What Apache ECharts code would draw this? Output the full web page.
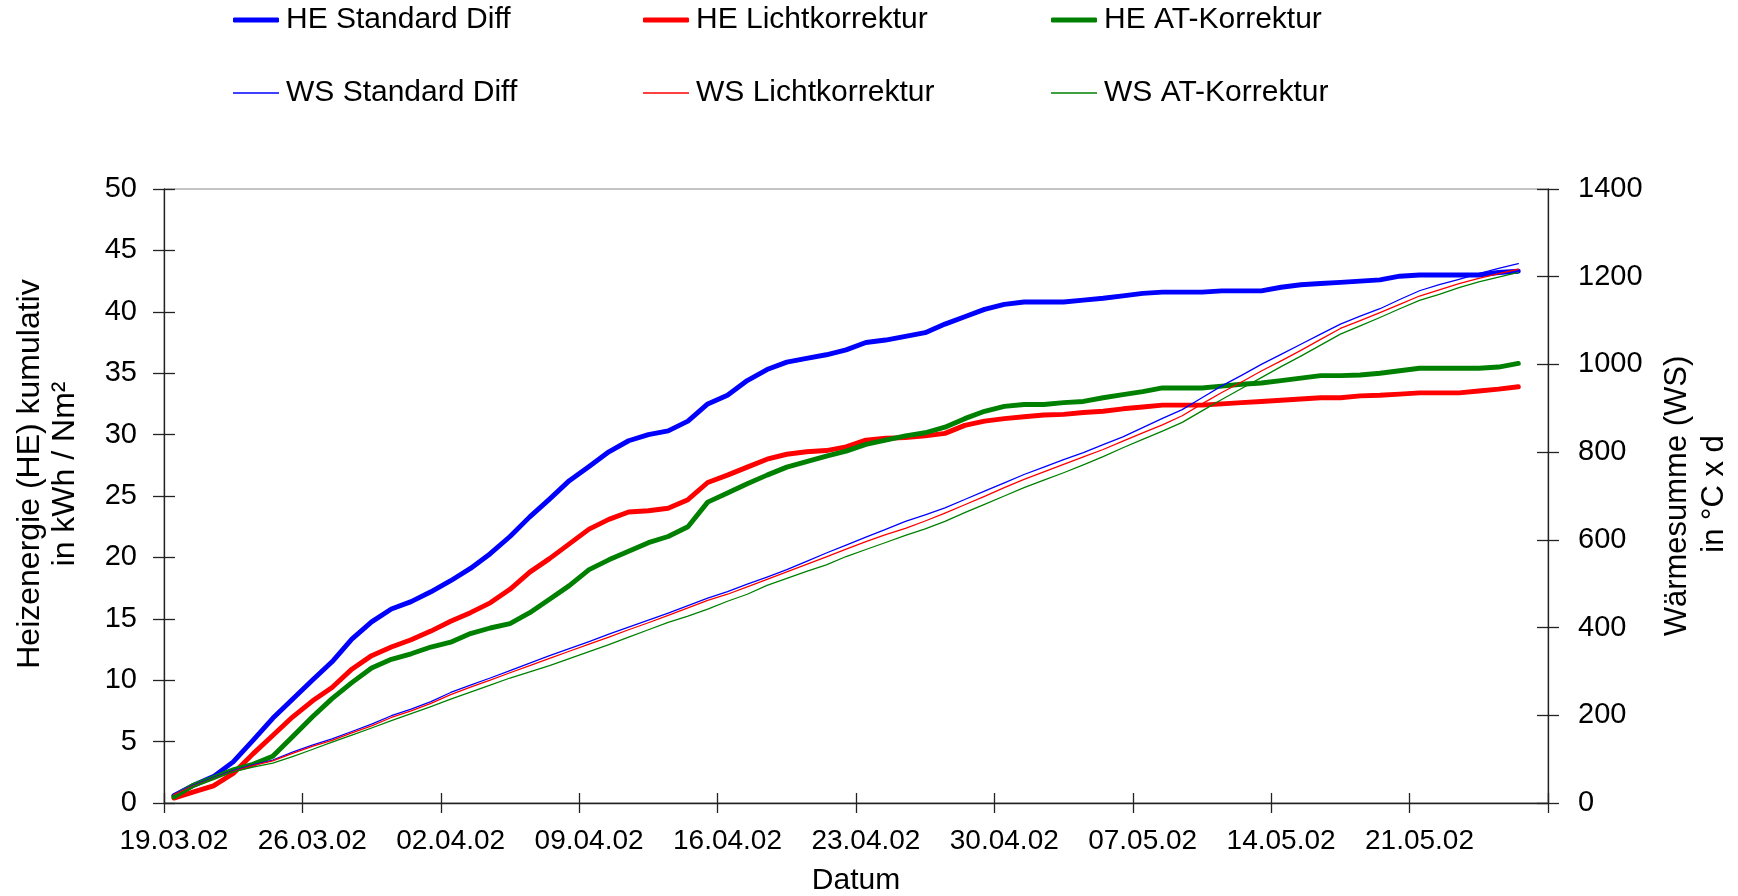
<!DOCTYPE html>
<html>
<head>
<meta charset="utf-8">
<script src="https://cdn.jsdelivr.net/npm/echarts@6/dist/echarts.min.js"></script>
<style>
  html, body { margin: 0; padding: 0; background: #fff; }
  #chart { width: 1738px; height: 896px; }
</style>
</head>
<body>
<div id="chart"></div>
<script>
// Daily categories 19.03.02 – 27.05.02
const dates = [
  '19.03.02','20.03.02','21.03.02','22.03.02','23.03.02','24.03.02','25.03.02','26.03.02','27.03.02','28.03.02',
  '29.03.02','30.03.02','31.03.02','01.04.02','02.04.02','03.04.02','04.04.02','05.04.02','06.04.02','07.04.02',
  '08.04.02','09.04.02','10.04.02','11.04.02','12.04.02','13.04.02','14.04.02','15.04.02','16.04.02','17.04.02',
  '18.04.02','19.04.02','20.04.02','21.04.02','22.04.02','23.04.02','24.04.02','25.04.02','26.04.02','27.04.02',
  '28.04.02','29.04.02','30.04.02','01.05.02','02.05.02','03.05.02','04.05.02','05.05.02','06.05.02','07.05.02',
  '08.05.02','09.05.02','10.05.02','11.05.02','12.05.02','13.05.02','14.05.02','15.05.02','16.05.02','17.05.02',
  '18.05.02','19.05.02','20.05.02','21.05.02','22.05.02','23.05.02','24.05.02','25.05.02','26.05.02','27.05.02'
];

// Heizenergie kumulativ (kWh / Nm²)
const heStandard = [
  0.6, 1.45, 2.15, 3.35, 5.1, 6.9, 8.45, 10.0, 11.5, 13.35,
  14.75, 15.8, 16.4, 17.2, 18.1, 19.1, 20.3, 21.7, 23.3, 24.75,
  26.25, 27.4, 28.6, 29.5, 30.0, 30.3, 31.1, 32.5, 33.2, 34.4,
  35.3, 35.9, 36.2, 36.5, 36.9, 37.5, 37.7, 38.0, 38.3, 39.0,
  39.6, 40.2, 40.6, 40.8, 40.8, 40.8, 40.95, 41.1, 41.3, 41.5,
  41.6, 41.6, 41.6, 41.7, 41.7, 41.7, 42.0, 42.2, 42.3, 42.4,
  42.5, 42.6, 42.9, 43.0, 43.0, 43.0, 43.0, 43.2, 43.3
];
const heLicht = [
  0.4, 0.9, 1.4, 2.4, 4.0, 5.5, 7.0, 8.3, 9.4, 10.9,
  12.0, 12.7, 13.3, 14.0, 14.8, 15.5, 16.3, 17.4, 18.8, 19.9,
  21.1, 22.3, 23.1, 23.7, 23.8, 24.0, 24.7, 26.1, 26.7, 27.35,
  28.0, 28.4, 28.6, 28.7, 29.0, 29.55, 29.7, 29.75, 29.9, 30.1,
  30.75, 31.1, 31.3, 31.45, 31.6, 31.65, 31.8, 31.9, 32.1, 32.25,
  32.4, 32.4, 32.4, 32.5, 32.6, 32.7, 32.8, 32.9, 33.0, 33.0,
  33.15, 33.2, 33.3, 33.4, 33.4, 33.4, 33.55, 33.7, 33.9
];
const heAT = [
  0.5, 1.45, 2.05, 2.7, 3.15, 3.8, 5.4, 7.0, 8.5, 9.8,
  11.0, 11.7, 12.15, 12.7, 13.1, 13.8, 14.25, 14.6, 15.5, 16.6,
  17.7, 19.0, 19.8, 20.5, 21.2, 21.7, 22.5, 24.5, 25.25, 26.0,
  26.7, 27.35, 27.8, 28.25, 28.65, 29.2, 29.55, 29.9, 30.15, 30.6,
  31.3, 31.9, 32.3, 32.45, 32.45, 32.6, 32.7, 33.0, 33.25, 33.5,
  33.8, 33.8, 33.8, 33.95, 34.1, 34.2, 34.4, 34.6, 34.8, 34.8,
  34.85, 35.0, 35.2, 35.4, 35.4, 35.4, 35.4, 35.5, 35.8
];

// Wärmesumme kumulativ (°C x d)
const wsStandard = [
  20, 41, 58, 74, 87, 98, 116, 132, 146, 163,
  180, 199, 214, 231, 252, 269, 285, 302, 319, 336,
  352, 368, 385, 401, 417, 433, 450, 467, 482, 499,
  515, 532, 551, 570, 588, 606, 624, 642, 657, 673,
  692, 711, 730, 749, 766, 783, 799, 817, 835, 856,
  877, 897, 924, 951, 975, 1000, 1023, 1046, 1069, 1092,
  1110, 1127, 1148, 1168, 1182, 1194, 1207, 1219, 1230
];
const wsLicht = [
  19, 39, 56, 72, 85, 96, 113, 129, 143, 160,
  176, 195, 210, 227, 247, 264, 280, 297, 313, 330,
  346, 362, 378, 395, 411, 428, 445, 462, 476, 493,
  510, 527, 544, 561, 579, 596, 612, 626, 643, 661,
  680, 699, 719, 738, 755, 772, 789, 806, 825, 844,
  862, 883, 910, 936, 960, 985, 1008, 1032, 1057, 1082,
  1100, 1118, 1137, 1156, 1170, 1184, 1196, 1207, 1217
];
const wsAT = [
  15, 38, 56, 71, 82, 91, 106, 122, 139, 155,
  171, 188, 204, 220, 237, 253, 269, 285, 299, 313,
  329, 345, 361, 378, 395, 412, 426, 442, 460, 476,
  496, 512, 528, 543, 562, 578, 594, 610, 625, 642,
  662, 681, 700, 719, 736, 753, 771, 790, 810, 829,
  848, 868, 894, 920, 945, 970, 995, 1019, 1044, 1069,
  1088, 1107, 1127, 1146, 1160, 1175, 1188, 1199, 1210
];

const seriesNames = [
  'HE Standard Diff', 'HE Lichtkorrektur', 'HE AT-Korrektur',
  'WS Standard Diff', 'WS Lichtkorrektur', 'WS AT-Korrektur'
];
const seriesData = [heStandard, heLicht, heAT, wsStandard, wsLicht, wsAT];
const seriesColors = ['#0000ff', '#ff0000', '#008000', '#0000ff', '#ff0000', '#008000'];

const FONT = '"Liberation Sans", Arial, Helvetica, sans-serif';
const AXIS_COLOR = '#222';
const THICK = 4.9;
const THIN = 1.3;

const chart = echarts.init(document.getElementById('chart'), null, { renderer: 'canvas' });

const gridBox = { left: 164, right: 190, top: 189, bottom: 93 };

function xAxisBase(extra) {
  return Object.assign({
    type: 'category',
    data: dates,
    boundaryGap: true,
    position: 'bottom',
    offset: 0,
    axisLine: { show: true, lineStyle: { color: AXIS_COLOR, width: 1.3 } },
    axisTick: { show: true, interval: 6, length: 10, inside: false, lineStyle: { color: AXIS_COLOR, width: 1.3 } },
    axisLabel: { show: true, interval: 6, fontSize: 28, fontFamily: FONT, color: '#000', margin: 24 },
    splitLine: { show: false }
  }, extra);
}

function yAxisBase(pos, max, interval, extra) {
  return Object.assign({
    type: 'value',
    position: pos,
    offset: 0,
    min: 0,
    max: max,
    interval: interval,
    axisLine: { show: true, lineStyle: { color: AXIS_COLOR, width: 1.3 } },
    axisTick: { show: true, length: 11, inside: false, lineStyle: { color: AXIS_COLOR, width: 1.3 } },
    axisLabel: { show: true, fontSize: 29, fontFamily: FONT, color: '#000', margin: 27, formatter: (v) => String(v) },
    splitLine: { show: false }
  }, extra);
}

const legendCols = [233, 643, 1051];
const legendRows = [5, 78];

const option = {
  animation: false,
  backgroundColor: '#fff',
  grid: Object.assign({ show: true, borderColor: '#8a8a8a', borderWidth: 1, backgroundColor: 'transparent', outerBoundsMode: 'none', containLabel: false }, gridBox),
  legend: seriesNames.map((name, k) => ({
    data: [name],
    left: legendCols[k % 3],
    top: legendRows[Math.floor(k / 3)],
    orient: 'horizontal',
    padding: 0,
    icon: k < 3 ? 'roundRect' : 'rect',
    itemWidth: 46,
    itemHeight: k < 3 ? 5 : 1.6,
    selectedMode: false,
    itemStyle: { color: seriesColors[k], borderWidth: 0 },
    textStyle: { fontSize: 30, fontFamily: FONT, color: '#000', padding: [0, 0, 0, 2] }
  })),
  xAxis: [
    xAxisBase({}),
    // ticks crossing the axis: inner half
    xAxisBase({
      axisLine: { show: false },
      axisLabel: { show: false },
      axisTick: { show: true, interval: 6, length: 10, inside: true, lineStyle: { color: AXIS_COLOR, width: 1.3 } }
    })
  ],
  yAxis: [
    yAxisBase('left', 50, 5, {}),
    yAxisBase('right', 1400, 200, { axisLabel: { show: true, fontSize: 29, fontFamily: FONT, color: '#000', margin: 30, formatter: (v) => String(v) } }),
    yAxisBase('left', 50, 5, {
      axisLine: { show: false }, axisLabel: { show: false },
      axisTick: { show: true, length: 11, inside: true, lineStyle: { color: AXIS_COLOR, width: 1.3 } }
    }),
    yAxisBase('right', 1400, 200, {
      axisLine: { show: false }, axisLabel: { show: false },
      axisTick: { show: true, length: 11, inside: true, lineStyle: { color: AXIS_COLOR, width: 1.3 } }
    })
  ],
  graphic: [
    { type: 'text', x: 30, y: 474, rotation: Math.PI / 2,
      style: { text: 'Heizenergie (HE) kumulativ', fontSize: 32, fontFamily: FONT, fill: '#000', textAlign: 'center', textVerticalAlign: 'middle' } },
    { type: 'text', x: 65, y: 474, rotation: Math.PI / 2,
      style: { text: 'in kWh / Nm²', fontSize: 32, fontFamily: FONT, fill: '#000', textAlign: 'center', textVerticalAlign: 'middle' } },
    { type: 'text', x: 1677, y: 496, rotation: Math.PI / 2,
      style: { text: 'Wärmesumme (WS)', fontSize: 31, fontFamily: FONT, fill: '#000', textAlign: 'center', textVerticalAlign: 'middle' } },
    { type: 'text', x: 1714, y: 494, rotation: Math.PI / 2,
      style: { text: 'in °C x d', fontSize: 31, fontFamily: FONT, fill: '#000', textAlign: 'center', textVerticalAlign: 'middle' } },
    { type: 'text', x: 856, y: 881,
      style: { text: 'Datum', fontSize: 30, fontFamily: FONT, fill: '#000', textAlign: 'center', textVerticalAlign: 'middle' } }
  ],
  series: seriesNames.map((name, k) => ({
    name: name,
    type: 'line',
    xAxisIndex: 0,
    yAxisIndex: k < 3 ? 0 : 1,
    data: seriesData[k],
    symbol: 'none',
    showSymbol: false,
    smooth: false,
    z: k < 3 ? 2 : 3,
    color: seriesColors[k],
    lineStyle: { color: seriesColors[k], width: k < 3 ? THICK : THIN, cap: 'round', join: 'round' },
    emphasis: { disabled: true }
  }))
};

chart.setOption(option);
</script>
</body>
</html>
